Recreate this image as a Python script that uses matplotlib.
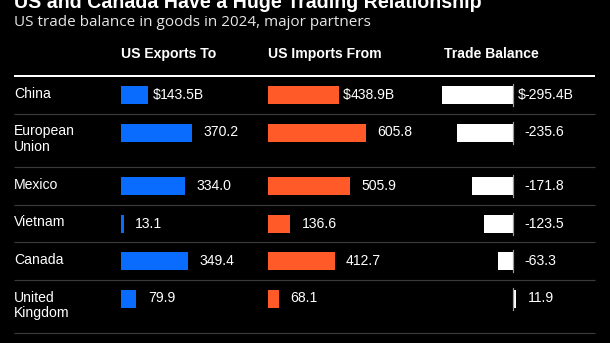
import matplotlib
matplotlib.use("Agg")
import matplotlib.pyplot as plt
from matplotlib.transforms import offset_copy

# ---- data ----
partners = ["China", "European\nUnion", "Mexico", "Vietnam", "Canada", "United\nKingdom"]
exports = [143.5, 370.2, 334.0, 13.1, 349.4, 79.9]
imports = [438.9, 605.8, 505.9, 136.6, 412.7, 68.1]
balance = [-295.4, -235.6, -171.8, -123.5, -63.3, 11.9]
headers = ["US Exports To", "US Imports From", "Trade Balance"]
title = "US and Canada Have a Huge Trading Relationship"
subtitle = "US trade balance in goods in 2024, major partners"

W, H, DPI = 610, 343, 100
BG = "#000000"
BLUE = "#0a6cff"
ORANGE = "#ff5a28"
WHITE = "#ffffff"
GRID = "#3a3a3a"
PT = 72 / DPI  # points per pixel

fig = plt.figure(figsize=(W / DPI, H / DPI), dpi=DPI, facecolor=BG)
base = fig.add_axes([0, 0, 1, 1])
base.set_xlim(0, W)
base.set_ylim(H, 0)
base.axis("off")
base.set_facecolor(BG)

LAB = "Liberation Sans"

# title/subtitle
base.text(14, 8, title, color=WHITE, fontsize=19.6 * PT, fontweight="bold",
          family="Liberation Sans", ha="left", va="baseline")
base.text(14, 26.5, subtitle, color="#e6e6e6", fontsize=15.2 * PT,
          family="Open Sans", ha="left", va="baseline")

# row layout
row_tops = []
y = 76
for p in partners:
    row_tops.append(y)
    y += 37.5 if "\n" not in p else 53.5
bottom = y
bar_centers = [t + 19 for t in row_tops]
bar_h = 18

# header
col_x = [121, 268, 444]
for hx, htxt in zip(col_x, headers):
    base.text(hx, 54, htxt, color=WHITE, fontsize=14 * PT, fontweight="bold",
              family=LAB, ha="left", va="center")
base.plot([14, 595], [76, 76], color=WHITE, lw=2 * PT, solid_capstyle="butt")
for t in row_tops[1:] + [bottom]:
    base.plot([14, 595], [t, t], color=GRID, lw=1.2 * PT, solid_capstyle="butt")

# row labels
for t, p in zip(row_tops, partners):
    for i, line in enumerate(p.split("\n")):
        base.text(14, t + 18 + 15.5 * i, line, color=WHITE, fontsize=14 * PT,
                  family=LAB, ha="left", va="center")

# column axes: (origin px, px per unit, values, color)
cols = [
    (121, 0.1915, exports, BLUE),
    (268, 0.1614, imports, ORANGE),
    (513.3, 0.240, balance, WHITE),
]
for ci, (x0, scale, vals, color) in enumerate(cols):
    left_px = x0 - 100
    width_px = 250
    ax = fig.add_axes([left_px / W, 0, width_px / W, 1])
    ax.set_xlim(-100 / scale, 150 / scale)
    ax.set_ylim(H, 0)
    ax.axis("off")
    ax.patch.set_alpha(0)
    ax.barh(bar_centers, vals, height=bar_h, color=color, linewidth=0)
    tr_num = offset_copy(ax.transData, fig=fig, x=11.5, y=0, units="dots")
    for i, (v, yc) in enumerate(zip(vals, bar_centers)):
        xv = max(v, 0)
        if ci == 2:
            ax.plot([0, 0], [yc - 11, yc + 11], color="#9a9a9a", lw=1.2 * PT)
        txt = f"{v:.1f}"
        if i == 0:
            txt = txt + "B"
            tr_d = offset_copy(ax.transData, fig=fig, x=12, y=0, units="dots")
            ax.text(xv, yc, "$", color=WHITE, fontsize=14 * PT, family=LAB,
                    ha="right", va="center", transform=tr_d)
        ax.text(xv, yc, txt, color=WHITE, fontsize=14 * PT, family=LAB,
                ha="left", va="center", transform=tr_num)

fig.savefig("out.png", dpi=DPI, facecolor=BG)
